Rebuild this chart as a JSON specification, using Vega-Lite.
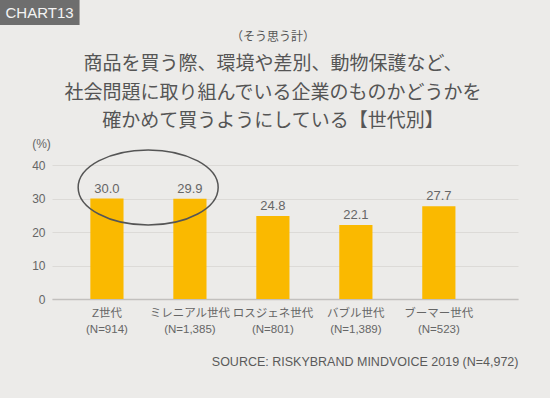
{
  "$schema": "https://vega.github.io/schema/vega-lite/v6.json",
  "width": 466,
  "height": 134,
  "autosize": {"type": "none"},
  "padding": {"left": 52, "top": 165, "right": 32, "bottom": 99},
  "background": "#ecebe9",
  "config": {
    "view": {"stroke": null},
    "font": "Liberation Sans, Noto Sans CJK JP"
  },
  "title": {
    "text": "（そう思う計）",
    "subtitle": ["商品を買う際、環境や差別、動物保護など、", "社会問題に取り組んでいる企業のものかどうかを", "確かめて買うようにしている【世代別】"],
    "anchor": "middle",
    "frame": "group",
    "orient": "top",
    "offset": -132,
    "dx": -12,
    "font": "Noto Sans CJK JP",
    "fontSize": 12,
    "fontWeight": "normal",
    "color": "#555555",
    "subtitleFont": "Noto Sans CJK JP",
    "subtitleFontSize": 19,
    "subtitleLineHeight": 28.5,
    "subtitleColor": "#555555",
    "subtitlePadding": 11
  },
  "datasets": {
    "bars": [
      {"gen": "Z世代|(N=914)", "value": 30.0},
      {"gen": "ミレニアル世代|(N=1,385)", "value": 29.9},
      {"gen": "ロスジェネ世代|(N=801)", "value": 24.8},
      {"gen": "バブル世代|(N=1,389)", "value": 22.1},
      {"gen": "ブーマー世代|(N=523)", "value": 27.7}
    ],
    "ellipse": [{"gen": "Z世代|(N=914)", "value": 33.3}],
    "badge": [{"gen": "Z世代|(N=914)", "value": 85.5, "label": "CHART13"}]
  },
  "data": {"name": "bars"},
  "encoding": {
    "x": {
      "field": "gen",
      "type": "nominal",
      "sort": null,
      "scale": {"paddingInner": 0.6, "paddingOuter": 0.608, "align": 0.38},
      "axis": {
        "labelExpr": "split(datum.value, '|')",
        "labelAngle": 0,
        "labelFont": "Liberation Sans, Noto Sans CJK JP",
        "labelFontSize": 11.5,
        "labelColor": "#666666",
        "labelLineHeight": 16.5,
        "labelBaseline": "top",
        "labelPadding": 8,
        "ticks": false,
        "domainColor": "#c2c0be",
        "domainWidth": 1.5,
        "title": "SOURCE: RISKYBRAND MINDVOICE 2019 (N=4,972)",
        "titleFont": "Liberation Sans",
        "titleFontSize": 12.5,
        "titleFontWeight": "normal",
        "titleColor": "#5a5a5a",
        "titleX": 466,
        "titleY": 62,
        "titleAlign": "right",
        "titleBaseline": "middle",
        "titleAnchor": "end"
      }
    },
    "y": {
      "field": "value",
      "type": "quantitative",
      "scale": {"domain": [0, 40], "nice": false},
      "axis": {
        "values": [0, 10, 20, 30, 40],
        "domain": false,
        "ticks": false,
        "labelPadding": 7,
        "labelFont": "Liberation Sans",
        "labelFontSize": 12,
        "labelColor": "#666666",
        "gridColor": "#dcdad7",
        "gridWidth": 1,
        "title": "(%)",
        "titleFont": "Liberation Sans",
        "titleAngle": 0,
        "titleFontSize": 12,
        "titleFontWeight": "normal",
        "titleColor": "#666666",
        "titleX": -11,
        "titleY": -22,
        "titleAlign": "center",
        "titleBaseline": "middle"
      }
    }
  },
  "layer": [
    {"mark": {"type": "bar", "color": "#fab900"}},
    {
      "mark": {"type": "text", "baseline": "alphabetic", "dy": -6, "fontSize": 13, "font": "Liberation Sans", "color": "#666666"},
      "encoding": {"text": {"field": "value", "type": "quantitative", "format": ".1f"}}
    },
    {
      "data": {"name": "ellipse"},
      "mark": {
        "type": "point",
        "shape": "M-1,0A1,0.536 0 1,0 1,0A1,0.536 0 1,0 -1,0Z",
        "filled": false,
        "stroke": "#555555",
        "strokeWidth": 1.5,
        "opacity": 1,
        "size": 19600
      },
      "encoding": {
        "x": {"field": "gen", "type": "nominal", "sort": null, "bandPosition": 1.742},
        "y": {"field": "value", "type": "quantitative"}
      }
    },
    {
      "data": {"name": "badge"},
      "mark": {
        "type": "point",
        "shape": "M-1,-0.3125H1V0.3125H-1Z",
        "filled": true,
        "fill": "#6e6e6e",
        "opacity": 1,
        "strokeWidth": 0,
        "size": 6400
      },
      "encoding": {
        "x": {"field": "gen", "type": "nominal", "sort": null, "bandPosition": -1.53},
        "y": {"field": "value", "type": "quantitative"}
      }
    },
    {
      "data": {"name": "badge"},
      "mark": {"type": "text", "fontSize": 15, "font": "Liberation Sans", "color": "#f4f4f4", "baseline": "middle", "align": "center"},
      "encoding": {
        "x": {"field": "gen", "type": "nominal", "sort": null, "bandPosition": -1.53},
        "y": {"field": "value", "type": "quantitative"},
        "text": {"field": "label"}
      }
    }
  ]
}
